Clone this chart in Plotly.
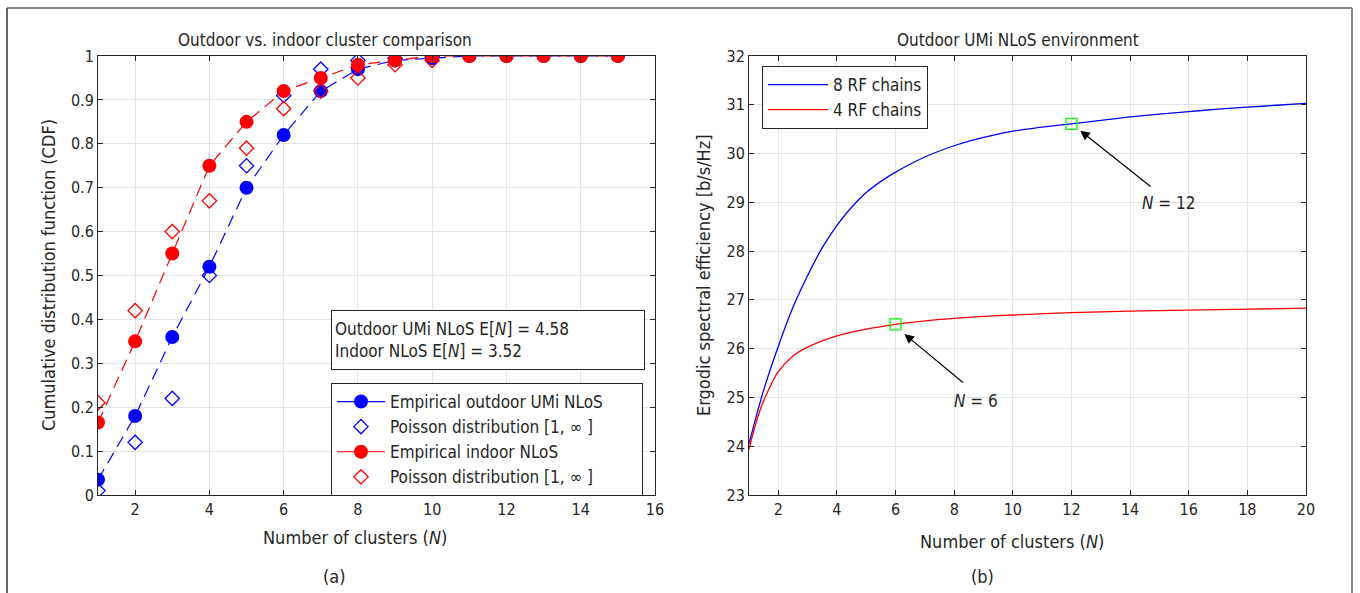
import plotly.graph_objects as go

# ---------------- data: left panel (CDF of number of clusters) ----------------
clusters = [1, 2, 3, 4, 5, 6, 7, 8, 9, 10, 11, 12, 13, 14, 15]
emp_outdoor = [0.035, 0.18, 0.36, 0.52, 0.70, 0.82, 0.92, 0.97, 0.99, 0.995, 1.0, 1.0, 1.0, 1.0, 1.0]
emp_indoor = [0.165, 0.35, 0.55, 0.75, 0.85, 0.92, 0.95, 0.98, 0.99, 1.0, 1.0, 1.0, 1.0, 1.0, 1.0]
poisson_x = [1, 2, 3, 4, 5, 6, 7, 8, 9, 10]
poisson_outdoor = [0.01, 0.12, 0.22, 0.50, 0.75, 0.91, 0.97, 0.99, 0.995, 0.998]
poisson_indoor = [0.21, 0.42, 0.60, 0.67, 0.79, 0.88, 0.92, 0.95, 0.98, 0.99]

# ---------------- data: right panel (ergodic spectral efficiency) ----------------
n8 = [1, 1.5, 2, 2.5, 3, 3.5, 4, 4.5, 5, 5.5, 6, 7, 8, 9, 10, 11, 12, 13, 14, 15, 16, 17, 18, 19, 20]
se8 = [24.05, 25.15, 26.05, 26.85, 27.5, 28.07, 28.53, 28.9, 29.2, 29.43, 29.62, 29.93, 30.16,
       30.33, 30.46, 30.54, 30.61, 30.68, 30.75, 30.81, 30.86, 30.91, 30.95, 30.99, 31.03]
n4 = [1, 1.2, 1.4, 1.7, 2, 2.5, 3, 4, 5, 6, 7, 8, 9, 10, 12, 14, 16, 18, 20]
se4 = [23.94, 24.4, 24.78, 25.2, 25.53, 25.85, 26.03, 26.26, 26.4, 26.5, 26.57, 26.62,
       26.66, 26.69, 26.74, 26.77, 26.79, 26.81, 26.83]
mark12 = ([12], [30.61])
mark6 = ([6], [26.5])

x_ticks_a = [2, 4, 6, 8, 10, 12, 14, 16]
y_ticks_a = [0, 0.1, 0.2, 0.3, 0.4, 0.5, 0.6, 0.7, 0.8, 0.9, 1]
y_ticklabels_a = ["0", "0.1", "0.2", "0.3", "0.4", "0.5", "0.6", "0.7", "0.8", "0.9", "1"]
x_ticks_b = [2, 4, 6, 8, 10, 12, 14, 16, 18, 20]
y_ticks_b = [23, 24, 25, 26, 27, 28, 29, 30, 31, 32]

BLUE = "#0000ff"
RED = "#ff0000"
FONT = "DejaVu Sans Condensed, Liberation Sans Narrow, Arial Narrow, sans-serif"
TXT = "#262626"
DASH = "12px,7px"
PAD = "\u00a0" * 7

W, H = 1360, 593
def px(x):
    return x / W
def py(y):
    return 1 - y / H

fig = go.Figure()

# left: lines + markers
fig.add_trace(go.Scatter(x=clusters, y=emp_outdoor, mode="lines", line=dict(color=BLUE, width=1.2, dash=DASH),
                         showlegend=False, xaxis="x", yaxis="y"))
fig.add_trace(go.Scatter(x=clusters, y=emp_outdoor, mode="markers", marker=dict(color=BLUE, size=14, symbol="circle"),
                         showlegend=False, xaxis="x", yaxis="y"))
fig.add_trace(go.Scatter(x=poisson_x, y=poisson_outdoor, mode="markers",
                         marker=dict(color=BLUE, size=11, symbol="diamond-open", line=dict(width=1.3)),
                         showlegend=False, xaxis="x", yaxis="y"))
fig.add_trace(go.Scatter(x=clusters, y=emp_indoor, mode="lines", line=dict(color=RED, width=1.2, dash=DASH),
                         showlegend=False, xaxis="x", yaxis="y"))
fig.add_trace(go.Scatter(x=clusters, y=emp_indoor, mode="markers", marker=dict(color=RED, size=14, symbol="circle"),
                         showlegend=False, xaxis="x", yaxis="y"))
fig.add_trace(go.Scatter(x=poisson_x, y=poisson_indoor, mode="markers",
                         marker=dict(color=RED, size=11, symbol="diamond-open", line=dict(width=1.3)),
                         showlegend=False, xaxis="x", yaxis="y"))

# left legend entries
fig.add_trace(go.Scatter(x=[None], y=[None], mode="lines+markers", name="Empirical outdoor UMi NLoS" + PAD,
                         line=dict(color=BLUE, width=1.2), marker=dict(color=BLUE, size=14),
                         legend="legend", xaxis="x", yaxis="y"))
fig.add_trace(go.Scatter(x=[None], y=[None], mode="markers", name="Poisson distribution [1, \u221e ]",
                         marker=dict(color=BLUE, size=11, symbol="diamond-open", line=dict(width=1.3)),
                         legend="legend", xaxis="x", yaxis="y"))
fig.add_trace(go.Scatter(x=[None], y=[None], mode="lines+markers", name="Empirical indoor NLoS",
                         line=dict(color=RED, width=1.2), marker=dict(color=RED, size=14),
                         legend="legend", xaxis="x", yaxis="y"))
fig.add_trace(go.Scatter(x=[None], y=[None], mode="markers", name="Poisson distribution [1, \u221e ]",
                         marker=dict(color=RED, size=11, symbol="diamond-open", line=dict(width=1.3)),
                         legend="legend", xaxis="x", yaxis="y"))

# right panel
fig.add_trace(go.Scatter(x=n8, y=se8, mode="lines", name="8 RF chains", line=dict(color=BLUE, width=1.3, shape="spline"),
                         legend="legend2", xaxis="x2", yaxis="y2"))
fig.add_trace(go.Scatter(x=n4, y=se4, mode="lines", name="4 RF chains", line=dict(color=RED, width=1.3, shape="spline"),
                         legend="legend2", xaxis="x2", yaxis="y2"))
fig.add_trace(go.Scatter(x=mark12[0], y=mark12[1], mode="markers", showlegend=False,
                         marker=dict(symbol="square-open", size=11, color="#00ff00", line=dict(width=1.3)),
                         xaxis="x2", yaxis="y2"))
fig.add_trace(go.Scatter(x=mark6[0], y=mark6[1], mode="markers", showlegend=False,
                         marker=dict(symbol="square-open", size=11, color="#00ff00", line=dict(width=1.3)),
                         xaxis="x2", yaxis="y2"))

axis_common = dict(showline=True, linecolor="#262626", linewidth=1, mirror="ticks", ticks="inside",
                   ticklen=5, tickcolor="#262626", showgrid=True, gridcolor="#e3e3e3", gridwidth=1,
                   zeroline=False, tickfont=dict(family=FONT, size=16, color=TXT))

fig.update_layout(
    width=W, height=H, autosize=False,
    margin=dict(l=0, r=0, t=0, b=0, autoexpand=False),
    paper_bgcolor="white", plot_bgcolor="white",
    font=dict(family=FONT, color=TXT),
    xaxis=dict(axis_common, domain=[px(98), px(655)], range=[1, 16], tickvals=x_ticks_a,
               anchor="y"),
    yaxis=dict(axis_common, domain=[py(495), py(56)], range=[0, 1], tickvals=y_ticks_a,
               ticktext=y_ticklabels_a, anchor="x"),
    xaxis2=dict(axis_common, domain=[px(749), px(1306)], range=[1, 20], tickvals=x_ticks_b,
                anchor="y2"),
    yaxis2=dict(axis_common, domain=[py(495), py(56)], range=[23, 32], tickvals=y_ticks_b,
                anchor="x2"),
    legend=dict(x=px(331), y=py(383), xanchor="left", yanchor="top", bgcolor="white",
                bordercolor="#262626", borderwidth=1, font=dict(family=FONT, size=17, color=TXT),
                tracegroupgap=0, itemwidth=48),
    legend2=dict(x=px(762), y=py(66), xanchor="left", yanchor="top", bgcolor="white",
                 bordercolor="#262626", borderwidth=1, font=dict(family=FONT, size=17, color=TXT),
                 itemwidth=60),
    showlegend=True,
)

def label(text, x, y, size=18, angle=0):
    return dict(text=text, x=px(x), y=py(y), xref="paper", yref="paper", xanchor="center",
                yanchor="middle", showarrow=False, textangle=angle,
                font=dict(size=size, family=FONT, color=TXT))

ann = [
    label("Outdoor vs. indoor cluster comparison", 325, 40, 17),
    label("Outdoor UMi NLoS environment", 1018, 40, 17),
    label("Number of clusters (<i>N</i>)", 355, 537),
    label("Number of clusters (<i>N</i>)", 1012, 541),
    label("Cumulative distribution function (CDF)", 48, 275, 18, -90),
    label("Ergodic spectral efficiency [b/s/Hz]", 703, 275, 18, -90),
    label("(a)", 334, 576),
    label("(b)", 982, 576),
]
# text box
ann.append(dict(text="Outdoor UMi NLoS E[<i>N</i>] = 4.58<br>Indoor NLoS E[<i>N</i>] = 3.52",
                x=px(331), y=py(310), xref="paper", yref="paper", xanchor="left", yanchor="top",
                showarrow=False, align="left", width=306, height=52, valign="middle",
                bordercolor="#262626", borderwidth=1, bgcolor="white", borderpad=3,
                font=dict(size=17, family=FONT, color=TXT)))
# arrows
ann.append(dict(x=12.3, y=30.47, ax=14.75, ay=29.3, xref="x2", yref="y2", axref="x2", ayref="y2",
                text="", showarrow=True, arrowhead=2, arrowsize=1.6, arrowwidth=1.2, arrowcolor="black"))
ann.append(dict(x=15.3, y=28.98, xref="x2", yref="y2", text="<i>N</i> = 12", showarrow=False,
                xanchor="center", yanchor="middle", font=dict(size=17, family=FONT, color=TXT)))
ann.append(dict(x=6.3, y=26.3, ax=8.35, ay=25.28, xref="x2", yref="y2", axref="x2", ayref="y2",
                text="", showarrow=True, arrowhead=2, arrowsize=1.6, arrowwidth=1.2, arrowcolor="black"))
ann.append(dict(x=8.75, y=24.93, xref="x2", yref="y2", text="<i>N</i> = 6", showarrow=False,
                xanchor="center", yanchor="middle", font=dict(size=17, family=FONT, color=TXT)))
fig.update_layout(annotations=ann)

# outer frame
frame = dict(type="line", xref="paper", yref="paper", line=dict(color="#858585", width=2))
fig.update_layout(shapes=[
    dict(frame, x0=px(7), x1=px(1352), y0=py(8), y1=py(8)),
    dict(frame, x0=px(7), x1=px(7), y0=py(8), y1=0, line=dict(color="#333333", width=1.5)),
    dict(frame, x0=px(1352), x1=px(1352), y0=py(8), y1=0),
])

POST = (
    "document.documentElement.style.margin='0';document.documentElement.style.overflow='hidden';"
    "document.body.style.margin='0';document.body.style.overflow='hidden';"
)
fig.write_html("out.html", post_script=POST,
               config={"displayModeBar": False, "responsive": False})
